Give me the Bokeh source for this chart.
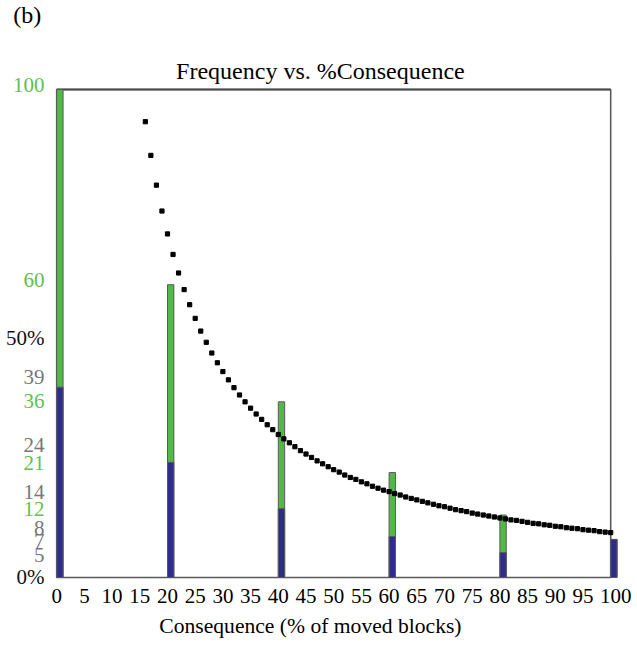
from bokeh.plotting import figure
from bokeh.core.properties import value
from bokeh.embed import file_html
from bokeh.resources import INLINE

# ---- data ----
BAR_X = [0, 20, 40, 60, 80, 100]
BAR_BLUE = [39, 23.6, 14.1, 8.4, 5.1, 7.8]
BAR_TOTAL = [100, 60, 36, 21.5, 12.8, 7.8]

DOT_X = [16, 17, 18, 19, 20, 21, 22, 23, 24, 25,
         26, 27, 28, 29, 30, 31, 32, 33, 34, 35,
         36, 37, 38, 39, 40, 41, 42, 43, 44, 45,
         46, 47, 48, 49, 50, 51, 52, 53, 54, 55,
         56, 57, 58, 59, 60, 61, 62, 63, 64, 65,
         66, 67, 68, 69, 70, 71, 72, 73, 74, 75,
         76, 77, 78, 79, 80, 81, 82, 83, 84, 85,
         86, 87, 88, 89, 90, 91, 92, 93, 94, 95,
         96, 97, 98, 99, 100]
DOT_Y = [93.4, 86.5, 80.4, 75.1, 70.4, 66.2, 62.4, 59.0, 55.9, 53.1,
         50.5, 48.2, 46.0, 44.0, 42.2, 40.5, 38.9, 37.4, 36.0, 34.7,
         33.5, 32.4, 31.3, 30.3, 29.3, 28.4, 27.6, 26.8, 26.0, 25.3,
         24.6, 23.9, 23.3, 22.7, 22.1, 21.6, 21.0, 20.5, 20.1, 19.6,
         19.2, 18.7, 18.3, 17.9, 17.6, 17.2, 16.9, 16.5, 16.2, 15.9,
         15.6, 15.3, 15.0, 14.7, 14.5, 14.2, 13.9, 13.7, 13.5, 13.2,
         13.0, 12.8, 12.6, 12.4, 12.2, 12.0, 11.8, 11.7, 11.5, 11.3,
         11.1, 11.0, 10.8, 10.7, 10.5, 10.4, 10.2, 10.1, 10.0, 9.8,
         9.7, 9.6, 9.4, 9.3, 9.2]

X_TICKS = [0, 5, 10, 15, 20, 25, 30, 35, 40, 45, 50,
           55, 60, 65, 70, 75, 80, 85, 90, 95, 100]
X_TICK_LABELS = [str(t) for t in X_TICKS]
Y_TICK_VALUES = [0, 5, 7, 8, 12, 14, 21, 24, 36, 39, 50, 60, 100]
Y_TICK_LABELS = ["0%", "5", "7", "8", "12", "14", "21", "24", "36", "39", "50%", "60", "100"]

TITLE = "Frequency vs. %Consequence"
X_LABEL = "Consequence (% of moved blocks)"
PANEL = "(b)"

X_MIN, X_MAX = 0, 100
Y_MIN, Y_MAX = 0, 100

# ---- styles / layout ----
GREEN = "#52b947"
BLUE = "#2f2d8c"
EDGE = "#5a5a5a"
LBL_GREEN = "#5fbf50"
LBL_GRAY = "#777777"
LBL_BLACK = "#111111"
Y_TICK_COLORS = [LBL_BLACK, LBL_GRAY, LBL_GRAY, LBL_GRAY, LBL_GREEN, LBL_GRAY, LBL_GREEN,
                 LBL_GRAY, LBL_GREEN, LBL_GRAY, LBL_BLACK, LBL_GREEN, LBL_GREEN]
Y_TICK_SHIFT_PX = [0, -2.4, 2.8, 10, 10.4, 16.7, 12.5, 15, 1.3, 9.7, -4, 5, 5]
X_TICK_NUDGE_PX = [0] * 20 + [5]
PX_PER_Y = 4.88
BAR_W = 1.15
FONT = "Liberation Serif, Times New Roman, serif"
W, H = 637, 648

p = figure(width=W, height=H,
           x_range=(-10.144, 104.84), y_range=(-14.55, 118.24),
           output_backend="svg", toolbar_location=None,
           x_axis_location=None, y_axis_location=None,
           min_border=0, min_border_left=0, min_border_right=0,
           min_border_top=0, min_border_bottom=0)
p.outline_line_color = None
p.grid.grid_line_color = None
p.background_fill_color = "white"
p.border_fill_color = "white"

# plot box
p.quad(left=[X_MIN], right=[X_MAX], bottom=[Y_MIN], top=[Y_MAX],
       fill_color=None, line_color=EDGE, line_width=1.6)
p.segment(x0=[X_MIN], y0=[Y_MAX], x1=[X_MAX], y1=[Y_MAX],
          line_color="#4a4a4a", line_width=2.2)

# stacked bars
lefts = BAR_X
rights = [x + BAR_W for x in BAR_X]
p.quad(left=lefts, right=rights, bottom=[0] * len(BAR_X), top=BAR_TOTAL,
       fill_color=GREEN, line_color=EDGE, line_width=1)
p.quad(left=lefts, right=rights, bottom=[0] * len(BAR_X), top=BAR_BLUE,
       fill_color=BLUE, line_color=EDGE, line_width=1)

# dotted curve
p.scatter(DOT_X, DOT_Y, marker="square", size=4.2, color="black")

# x tick labels
p.text(x=X_TICKS, y=[-3.69] * len(X_TICKS), text=X_TICK_LABELS,
       x_offset=X_TICK_NUDGE_PX,
       text_align="center", text_baseline="middle",
       text_font=value(FONT), text_font_size="21px", text_color="black")

# y tick labels (nudged apart as in the original)
y_lbl_pos = [v + s / PX_PER_Y for v, s in zip(Y_TICK_VALUES, Y_TICK_SHIFT_PX)]
p.text(x=[-2.2] * len(Y_TICK_VALUES), y=y_lbl_pos, text=Y_TICK_LABELS,
       text_align="right", text_baseline="middle",
       text_font=value(FONT), text_font_size="21px", text_color=Y_TICK_COLORS)

# title, axis label, panel letter
p.text(x=[47.6], y=[103.85], text=[TITLE], text_align="center",
       text_baseline="middle", text_font=value(FONT),
       text_font_size="24px", text_color="black")
p.text(x=[45.8], y=[-10.04], text=[X_LABEL], text_align="center",
       text_baseline="middle", text_font=value(FONT),
       text_font_size="21.6px", text_color="black")
p.text(x=[-7.85], y=[115.3], text=[PANEL], text_align="left",
       text_baseline="middle", text_font=value(FONT),
       text_font_size="24px", text_color="black")

open("out.html", "w").write(file_html(p, INLINE))
